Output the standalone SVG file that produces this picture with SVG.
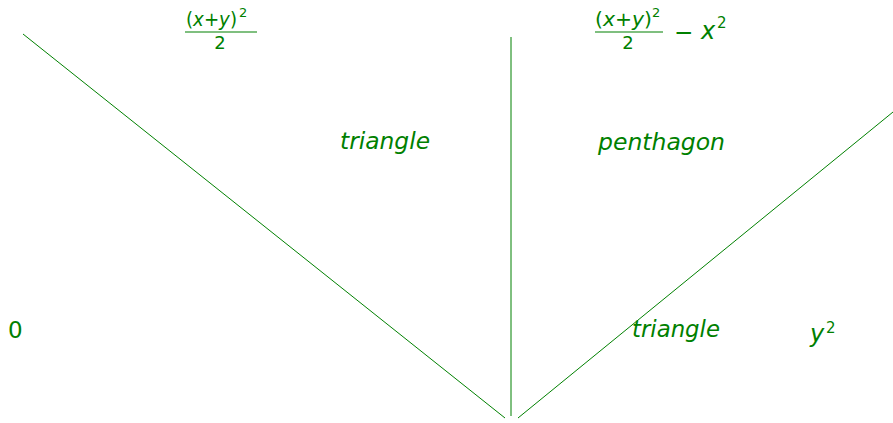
<svg xmlns="http://www.w3.org/2000/svg" width="893" height="423" viewBox="0 0 893 423">
<style>
.t{fill:#008000;font-family:"DejaVu Sans",sans-serif;}
.it{font-style:italic;}
.big{font-size:23px;}
.num{font-size:19px;}
.sup{font-size:13px;}
.ln{stroke:#008000;stroke-width:1;fill:none;}
</style>
<rect width="893" height="423" fill="#fff"/>
<g id="connectors">
<line class="ln" x1="23" y1="34" x2="505" y2="418"/>
<line class="ln" x1="511" y1="37" x2="511" y2="416"/>
<line class="ln" x1="518" y1="418" x2="893" y2="112"/>
</g>
<g id="frac-left">
<text class="t num" x="186" y="26" textLength="51" lengthAdjust="spacingAndGlyphs">(<tspan class="it">x</tspan>+<tspan class="it">y</tspan>)</text>
<text class="t sup" x="239" y="17">2</text>
<line x1="185" y1="32" x2="257" y2="32" stroke="#008000" stroke-width="1.2"/>
<text class="t" x="220" y="49" text-anchor="middle" style="font-size:18px">2</text>
</g>
<g id="frac-right">
<text class="t num" x="595" y="26" textLength="57" lengthAdjust="spacingAndGlyphs">(<tspan class="it">x</tspan>+<tspan class="it">y</tspan>)</text>
<text class="t sup" x="652" y="17">2</text>
<line x1="595" y1="32" x2="663" y2="32" stroke="#008000" stroke-width="1.2"/>
<text class="t" x="628" y="49" text-anchor="middle" style="font-size:18px">2</text>
<text class="t big" x="674" y="40">−</text>
<text class="t it" x="701" y="39" style="font-size:24px">x</text>
<text class="t" x="717" y="28" style="font-size:15px">2</text>
</g>
<g id="triangle-top"><text class="t big it" x="340" y="149" textLength="90" lengthAdjust="spacingAndGlyphs">triangle</text></g>
<g id="penthagon"><text class="t big it" x="598" y="150" textLength="127" lengthAdjust="spacingAndGlyphs">penthagon</text></g>
<g id="triangle-bottom"><text class="t big it" x="632" y="337" textLength="88" lengthAdjust="spacingAndGlyphs">triangle</text></g>
<g id="zero"><text class="t big" x="8" y="338">0</text></g>
<g id="y2"><text class="t it" x="810" y="342" style="font-size:24px">y</text><text class="t" x="826" y="333" style="font-size:15px">2</text></g>
</svg>
